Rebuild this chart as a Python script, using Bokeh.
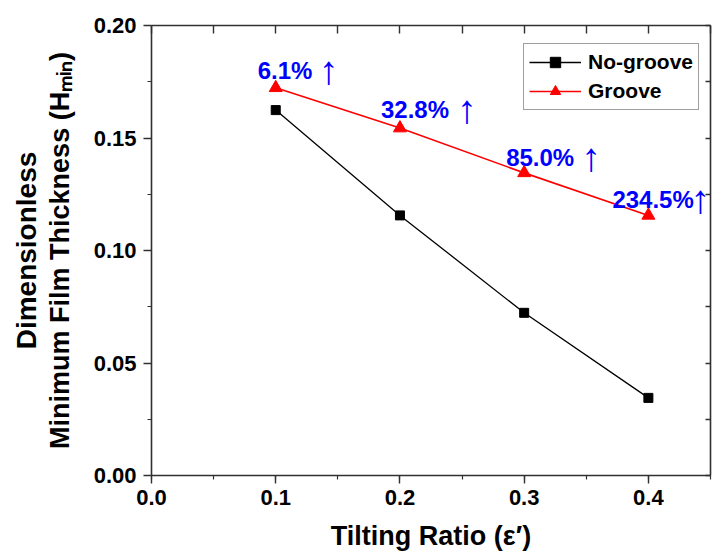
import math
from bokeh.plotting import figure
from bokeh.models import (Range1d, LinearAxis, SingleIntervalTicker, FixedTicker, NumeralTickFormatter,
                          Legend, LegendItem, ColumnDataSource, LabelSet)
from bokeh.core.properties import value, field
from bokeh.embed import file_html
from bokeh.resources import INLINE

# ---- data ----
tilting_ratio = [0.1, 0.2, 0.3, 0.4]
no_groove = [0.1624, 0.1156, 0.0723, 0.0345]
groove = [0.1723, 0.1544, 0.1345, 0.1156]
increase_labels = ["6.1%", "32.8%", "85.0%", "234.5%"]

# ---- style ----
FONT = "Liberation Sans"
AX_COLOR = "#303030"
label_dx = [-18, -19, -18, -36]
label_dy = [9, 10, 7, 7]
arrow_dx = [53, 67, 67, 52]
arrow_dy = [4, 5, 2, 2]

p = figure(width=721, height=559, output_backend="svg", toolbar_location=None,
           x_range=Range1d(0, 0.45), y_range=Range1d(0, 0.20),
           min_border_left=151, min_border_right=11, min_border_top=25, min_border_bottom=84,
           x_axis_type=None, y_axis_type=None)
p.outline_line_color = None
p.background_fill_color = "white"
p.border_fill_color = "white"

# axes
xax = LinearAxis(ticker=SingleIntervalTicker(interval=0.1, num_minor_ticks=2),
                 formatter=NumeralTickFormatter(format="0.0"))
yax = LinearAxis(ticker=SingleIntervalTicker(interval=0.05, num_minor_ticks=2),
                 formatter=NumeralTickFormatter(format="0.00"))
for ax in (xax, yax):
    ax.axis_line_color = AX_COLOR
    ax.axis_line_width = 1.6
    ax.major_tick_line_color = AX_COLOR
    ax.minor_tick_line_color = AX_COLOR
    ax.major_tick_line_width = 1.4
    ax.minor_tick_line_width = 1.2
    ax.major_tick_out = 8
    ax.major_tick_in = 0
    ax.minor_tick_out = 4
    ax.minor_tick_in = 0
    ax.major_label_text_font = FONT
    ax.major_label_text_font_style = "bold"
    ax.major_label_text_font_size = "22px"
    ax.major_label_text_color = "black"
    ax.axis_label_text_font = FONT
    ax.axis_label_text_font_style = "bold"
    ax.axis_label_text_color = "black"
xax.major_label_standoff = 6
yax.major_label_standoff = 7
xax.axis_label = "Tilting Ratio (\u03b5\u2032)"
xax.axis_label_text_font_size = "27px"
xax.axis_label_standoff = 13
yax.axis_label = "Minimum Film Thickness (H\u2098\u1d62\u2099)"
yax.axis_label_text_font_size = "27px"
yax.axis_label_standoff = 16
p.add_layout(xax, "below")
p.add_layout(yax, "left")

# outer left axis carrying first title line
y2 = LinearAxis(ticker=FixedTicker(ticks=[]), axis_label="Dimensionless")
y2.axis_line_color = None
y2.major_tick_line_color = None
y2.minor_tick_line_color = None
y2.major_tick_out = 0
y2.minor_tick_out = 0
y2.major_label_text_font_size = "0px"
y2.axis_label_text_font = FONT
y2.axis_label_text_font_style = "bold"
y2.axis_label_text_font_size = "28px"
y2.axis_label_text_color = "black"
y2.axis_label_standoff = 0
p.add_layout(y2, "left")

tax = LinearAxis(ticker=SingleIntervalTicker(interval=0.05, num_minor_ticks=0))
rax = LinearAxis(ticker=SingleIntervalTicker(interval=0.025, num_minor_ticks=0))
for ax, tin in ((tax, 8), (rax, 5)):
    ax.axis_line_color = AX_COLOR
    ax.axis_line_width = 1.6
    ax.major_tick_line_color = AX_COLOR
    ax.major_tick_line_width = 1.4
    ax.major_tick_in = tin
    ax.major_tick_out = 0
    ax.minor_tick_line_color = None
    ax.major_label_text_font_size = "0px"
    ax.major_label_text_color = None
p.add_layout(tax, "above")
p.add_layout(rax, "right")

# grids
p.xgrid.ticker = SingleIntervalTicker(interval=0.05)
p.ygrid.ticker = SingleIntervalTicker(interval=0.025)
for g in (p.xgrid, p.ygrid):
    g.grid_line_color = "#cfcfcf"
    g.grid_line_dash = "3 3"
    g.grid_line_width = 1

# series
src = ColumnDataSource(dict(x=tilting_ratio, ng=no_groove, g=groove, lab=increase_labels,
                            arrow=["\u2191"] * len(increase_labels),
                            dx=label_dx, dy=label_dy, adx=arrow_dx, ady=arrow_dy))
l1 = p.line("x", "ng", source=src, line_color="black", line_width=1.3)
m1 = p.scatter("x", "ng", source=src, marker="square", size=9, fill_color="black", line_color="black")
l2 = p.line("x", "g", source=src, line_color="#ff0000", line_width=1.6)
m2 = p.scatter("x", "g", source=src, marker="triangle", size=13, fill_color="#ff0000", line_color="#ff0000")

p.add_layout(LabelSet(x="x", y="g", text="lab", source=src,
                      x_offset=field("dx"), y_offset=field("dy"),
                      text_font=value(FONT), text_font_style="bold", text_font_size="24px",
                      text_color="#0000ff", text_align="left", text_baseline="alphabetic"))
p.add_layout(LabelSet(x="x", y="g", text="arrow", source=src,
                      x_offset=field("adx"), y_offset=field("ady"),
                      text_font=value(FONT), text_font_style="normal", text_font_size="40px",
                      text_color="#0000ff", text_align="center", text_baseline="alphabetic"))

legend = Legend(items=[LegendItem(label="No-groove", renderers=[l1, m1]),
                       LegendItem(label="Groove", renderers=[l2, m2])],
                location=(372, 365))
legend.label_text_font = FONT
legend.label_text_font_style = "bold"
legend.label_text_font_size = "21px"
legend.label_text_color = "black"
legend.glyph_width = 52
legend.glyph_height = 26
legend.label_height = 26
legend.label_standoff = 7
legend.spacing = 3
legend.padding = 5
legend.margin = 0
legend.border_line_color = "#404040"
legend.border_line_width = 1.2
legend.background_fill_alpha = 1
p.add_layout(legend)

open("out.html", "w").write(file_html(p, INLINE))
